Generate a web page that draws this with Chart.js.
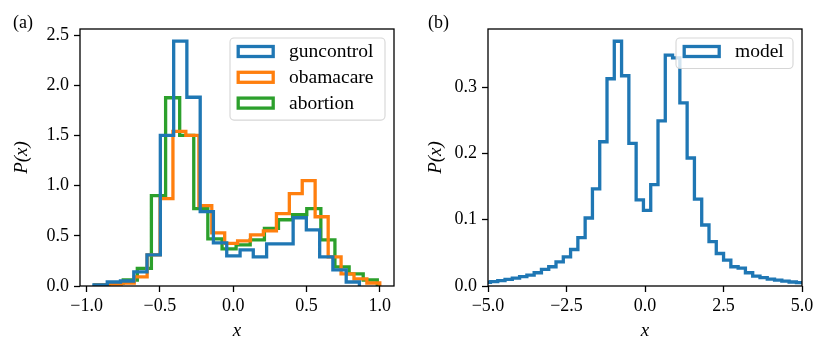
<!DOCTYPE html>
<html>
<head>
<meta charset="utf-8">
<script src="https://cdn.jsdelivr.net/npm/chart.js@4.4.1/dist/chart.umd.min.js"></script>
<style>
html,body{margin:0;padding:0;background:#fff;width:829px;height:356px;overflow:hidden}
canvas{position:absolute;top:0}
</style>
</head>
<body>
<canvas id="ca" width="414" height="356" style="left:0"></canvas>
<canvas id="cb" width="415" height="356" style="left:414px"></canvas>
<script>
// ---------- data (a) ----------
const gunEdges = [-0.950,-0.859,-0.769,-0.678,-0.588,-0.497,-0.406,-0.316,-0.225,-0.135,-0.044,0.047,0.137,0.228,0.318,0.409,0.499,0.590,0.680,0.771,0.861];
const gunValues = [0.01,0.04,0.05,0.14,0.31,1.50,2.44,1.88,0.74,0.43,0.30,0.36,0.29,0.42,0.42,0.68,0.56,0.29,0.16,0.04];

const obamaEdges = [-0.940,-0.852,-0.764,-0.675,-0.587,-0.499,-0.411,-0.323,-0.234,-0.146,-0.058,0.030,0.118,0.206,0.295,0.383,0.471,0.559,0.648,0.736,0.824,0.912,1.000];
const obamaValues = [0.01,0.02,0.03,0.09,0.31,0.87,1.54,1.50,0.80,0.53,0.425,0.45,0.51,0.55,0.72,0.92,1.05,0.69,0.29,0.12,0.07,0.03];

const abortionEdges = [-0.943,-0.847,-0.750,-0.654,-0.558,-0.461,-0.365,-0.269,-0.173,-0.076,0.020,0.116,0.213,0.309,0.405,0.502,0.598,0.694,0.791,0.887,0.983];
const abortionValues = [0.01,0.03,0.06,0.175,0.90,1.875,1.50,0.77,0.47,0.37,0.41,0.46,0.575,0.66,0.71,0.77,0.46,0.19,0.12,0.06];

const seriesLabelsA = ['guncontrol','obamacare','abortion'];
const ticksAx = [-1.0,-0.5,0.0,0.5,1.0];
const ticksAy = [0.0,0.5,1.0,1.5,2.0,2.5];

// ---------- data (b) ----------
const modelEdges = [-5.154,-4.922,-4.690,-4.458,-4.226,-3.994,-3.762,-3.530,-3.298,-3.066,-2.834,-2.602,-2.370,-2.138,-1.906,-1.674,-1.442,-1.210,-0.978,-0.746,-0.514,-0.282,-0.050,0.182,0.414,0.646,0.878,1.110,1.342,1.574,1.806,2.038,2.270,2.502,2.734,2.966,3.198,3.430,3.662,3.894,4.126,4.358,4.590,4.822,5.054];
const modelValues = [0.0055,0.0065,0.008,0.010,0.012,0.014,0.0165,0.020,0.025,0.029,0.0365,0.044,0.055,0.073,0.1025,0.1465,0.2175,0.3125,0.369,0.317,0.215,0.130,0.114,0.153,0.249,0.348,0.344,0.276,0.193,0.131,0.092,0.067,0.049,0.039,0.029,0.027,0.020,0.015,0.0125,0.0105,0.009,0.0075,0.006,0.005];
const seriesLabelsB = ['model'];
const ticksBx = [-5.0,-2.5,0.0,2.5,5.0];
const ticksBy = [0.0,0.1,0.2,0.3];

const C_BLUE = '#1f77b4', C_ORANGE = '#ff7f0e', C_GREEN = '#2ca02c';
const LW = 3.3;

Chart.defaults.font.family = "'Liberation Serif', 'DejaVu Serif', serif";
Chart.defaults.color = '#000';
Chart.defaults.animation = false;

function stepPoints(edges, values) {
  const pts = [{x: edges[0], y: 0}];
  for (let i = 0; i < values.length; i++) pts.push({x: edges[i], y: values[i]});
  pts.push({x: edges[values.length], y: 0});
  return pts;
}
function fmt(v) {
  const s = Math.abs(v).toFixed(1);
  return (v < -1e-9 ? '\u2212' : '') + s;
}
function ds(label, edges, values, color) {
  return {label, data: stepPoints(edges, values), borderColor: color, backgroundColor: color,
    borderWidth: LW, stepped: 'before', pointRadius: 0, fill: false, clip: 0, borderJoinStyle: 'miter', borderCapStyle: 'butt'};
}
function axis(min, max, ticks, title, isX, size, titlePad) {
  return {
    type: 'linear', min, max,
    afterBuildTicks: s => { s.ticks = ticks.map(v => ({value: v})); },
    afterFit: s => { if (isX) s.height = size; else s.width = size; },
    ticks: {callback: v => fmt(v), color: '#000', font: {size: 18}, padding: isX ? 3 : 5, maxRotation: 0, minRotation: 0, autoSkip: false},
    grid: {display: true, drawOnChartArea: false, drawTicks: true, tickLength: 6, tickWidth: 1.3, tickColor: '#000'},
    border: {display: false},
    title: {display: true, text: title, color: '#000', font: {size: 19, style: 'italic'},
      padding: isX ? {top: 0, bottom: titlePad} : {top: titlePad, bottom: 0}}
  };
}

const framePlugin = {
  id: 'frame',
  afterDatasetsDraw(chart) {
    const {ctx, chartArea: a} = chart;
    ctx.save();
    ctx.strokeStyle = '#000';
    ctx.lineWidth = 1.3;
    ctx.strokeRect(a.left, a.top, a.right - a.left, a.bottom - a.top);
    ctx.restore();
  }
};
const legendPlugin = {
  id: 'mplLegend',
  afterDatasetsDraw(chart, args, o) {
    const {ctx, chartArea: a} = chart;
    const sets = chart.data.datasets;
    const n = sets.length;
    const h = 13.5 + 25.8 * (n - 1) + 17;
    const x0 = a.right - o.inset - o.width, y0 = a.top + o.inset;
    ctx.save();
    ctx.beginPath();
    ctx.roundRect(x0, y0, o.width, h, 4);
    ctx.fillStyle = 'rgba(255,255,255,0.8)';
    ctx.fill();
    ctx.strokeStyle = 'rgba(204,204,204,0.8)';
    ctx.lineWidth = 1.1;
    ctx.stroke();
    ctx.font = "19.5px 'Liberation Serif', serif";
    ctx.textBaseline = 'middle';
    ctx.textAlign = 'left';
    sets.forEach((d, i) => {
      const cy = y0 + 13.5 + 25.8 * i;
      ctx.strokeStyle = d.borderColor;
      ctx.lineWidth = LW;
      ctx.strokeRect(x0 + 8.2, cy - 5, 35, 10);
      ctx.fillStyle = '#000';
      ctx.fillText(d.label, x0 + 59, cy + 0.5);
    });
    ctx.restore();
  }
};
const panelPlugin = {
  id: 'panelLabel',
  afterDraw(chart, args, o) {
    const {ctx} = chart;
    ctx.save();
    ctx.font = "18px 'Liberation Serif', serif";
    ctx.fillStyle = '#000';
    ctx.textBaseline = 'middle';
    ctx.fillText(o.text, o.x, o.y);
    ctx.restore();
  }
};

new Chart(document.getElementById('ca'), {
  type: 'line',
  data: {datasets: [
    ds(seriesLabelsA[0], gunEdges, gunValues, C_BLUE),
    ds(seriesLabelsA[1], obamaEdges, obamaValues, C_ORANGE),
    ds(seriesLabelsA[2], abortionEdges, abortionValues, C_GREEN)
  ]},
  options: {
    responsive: false, animation: false,
    layout: {padding: {top: 29, right: 20, left: 0, bottom: 0}},
    plugins: {legend: {display: false}, tooltip: {enabled: false},
      mplLegend: {width: 155, inset: 9}, panelLabel: {text: '(a)', x: 13, y: 23}},
    scales: {
      x: axis(-1.045, 1.097, ticksAx, 'x', true, 70, 14),
      y: axis(0, 2.56, ticksAy, 'P(x)', false, 80, 11)
    }
  },
  plugins: [framePlugin, legendPlugin, panelPlugin]
});

new Chart(document.getElementById('cb'), {
  type: 'line',
  data: {datasets: [ds(seriesLabelsB[0], modelEdges, modelValues, C_BLUE)]},
  options: {
    responsive: false, animation: false,
    layout: {padding: {top: 29, right: 27, left: 0, bottom: 0}},
    plugins: {legend: {display: false}, tooltip: {enabled: false},
      mplLegend: {width: 117, inset: 9}, panelLabel: {text: '(b)', x: 14, y: 23}},
    scales: {
      x: axis(-5, 5, ticksBx, 'x', true, 70, 14),
      y: axis(0, 0.3875, ticksBy, 'P(x)', false, 74, 11)
    }
  },
  plugins: [framePlugin, legendPlugin, panelPlugin]
});
</script>
</body>
</html>
